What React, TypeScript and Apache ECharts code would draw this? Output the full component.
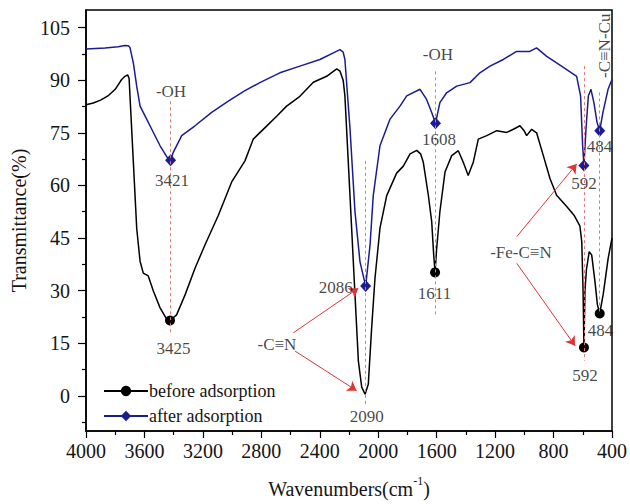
import React, { useEffect, useRef } from 'react';
import * as echarts from 'echarts';

const FONT = '"Liberation Serif", "Times New Roman", "DejaVu Serif", serif';

// before adsorption spectrum: [wavenumber, transmittance]
const beforeData: [number, number][] = [
  [4000, 83.0], [3950, 83.5], [3900, 84.3], [3850, 85.5], [3800, 87.4], [3756, 90.2],
  [3733, 91.1], [3715, 91.5], [3705, 90.5], [3699, 85.5], [3676, 66.7], [3653, 47.8],
  [3630, 38.4], [3608, 35.0], [3574, 34.2], [3539, 29.9], [3493, 25.1], [3450, 22.0],
  [3425, 21.5], [3380, 23.1], [3322, 28.8], [3254, 36.4], [3186, 43.0], [3094, 51.5],
  [3003, 61.0], [2912, 67.0], [2855, 73.2], [2764, 76.9], [2695, 79.7], [2627, 82.6],
  [2536, 85.4], [2444, 89.4], [2353, 91.1], [2284, 93.2], [2262, 92.6], [2240, 90.0],
  [2228, 85.5], [2205, 66.7], [2182, 47.8], [2159, 28.8], [2136, 10.0], [2113, 2.5],
  [2090, 0.5], [2068, 3.3], [2045, 19.4], [2022, 33.6], [1988, 47.8], [1942, 57.1],
  [1874, 63.5], [1828, 65.5], [1782, 69.0], [1737, 70.0], [1710, 69.0], [1692, 66.7],
  [1657, 57.2], [1634, 49.7], [1620, 40.0], [1611, 35.2], [1600, 42.0], [1578, 52.5],
  [1543, 63.8], [1497, 68.5], [1452, 69.9], [1418, 66.6], [1384, 62.8], [1349, 66.7],
  [1315, 73.2], [1257, 74.2], [1189, 75.6], [1120, 75.1], [1075, 76.0], [1030, 77.0],
  [1000, 75.5], [984, 74.2], [950, 76.0], [916, 75.0], [870, 68.5], [824, 61.9],
  [779, 57.2], [710, 54.0], [660, 51.5], [620, 48.5], [607, 44.0], [598, 30.0],
  [592, 13.8], [585, 30.0], [575, 36.0], [556, 41.1], [539, 40.2], [517, 32.7],
  [500, 26.0], [484, 23.5], [460, 29.0], [426, 39.3], [400, 45.0],
];

// after adsorption spectrum
const afterData: [number, number][] = [
  [4000, 98.9], [3870, 99.2], [3780, 99.5], [3733, 99.9], [3710, 99.8], [3699, 99.3],
  [3676, 94.9], [3653, 88.3], [3630, 82.6], [3596, 79.8], [3550, 76.0], [3493, 71.3],
  [3441, 67.8], [3421, 67.2], [3402, 69.5], [3345, 74.2], [3254, 77.0], [3140, 80.8],
  [3026, 84.0], [2912, 87.0], [2810, 89.3], [2673, 92.1], [2536, 94.0], [2399, 95.9],
  [2307, 97.8], [2262, 98.7], [2240, 98.0], [2228, 95.9], [2193, 76.1], [2159, 52.5],
  [2125, 38.3], [2086, 31.3], [2056, 43.0], [2034, 57.1], [1988, 71.3], [1919, 78.9],
  [1851, 82.6], [1805, 85.5], [1714, 87.4], [1669, 84.5], [1634, 80.8], [1608, 77.7],
  [1578, 83.6], [1532, 86.4], [1463, 88.3], [1372, 89.3], [1304, 92.1], [1235, 94.0],
  [1144, 95.9], [1053, 98.2], [962, 98.2], [916, 99.2], [847, 96.8], [779, 94.9],
  [710, 93.0], [642, 91.1], [615, 85.5], [601, 71.3], [592, 65.7], [578, 76.0],
  [562, 85.5], [544, 87.4], [524, 83.6], [502, 77.9], [484, 75.6], [462, 80.8],
  [427, 87.4], [400, 90.2],
];

const beforePeaks = [3425, 1611, 592, 484];
const afterPeaks = [3421, 2086, 1608, 592, 484];

const yMajor = [0, 15, 30, 45, 60, 75, 90, 105];
const yMinor = [-7.5, 7.5, 22.5, 37.5, 52.5, 67.5, 82.5, 97.5];

// annotation texts
const annoText = ['-OH', '3421', '3425', '-OH', '1608', '1611', '2086', '2090', '592', '484', '592', '484', '-C≡N', '-Fe-C≡N'];
const annoWn = [3418, 3411, 3401, 1591, 1584, 1615, 2290, 2079, 592, 486, 585, 479, 2693, 1023];
const annoT = [86.8, 61.3, 13.5, 97.3, 73.2, 29.2, 30.8, -6.0, 60.5, 71.2, 5.8, 18.6, 14.6, 41];

const vertText = ['-C≡N-Cu'];
const vertWn = [448];
const vertT = [99.8];

// dotted guide lines
const guideWn = [3421, 2088, 1608, 592, 484];
const guideTop = [84, 67, 92.5, 94, 86.5];
const guideBottom = [17.5, -3, 23, 10, 24];

// arrows
const arrowFrom: [number, number][] = [[2581, 18], [2570, 12.8], [1052, 45.4], [1052, 37.8]];
const arrowTo: [number, number][] = [[2136, 30.7], [2148, 1.5], [642, 66.1], [653, 14.3]];

const BLUE = '#1b1b92';
const TEXT = '#151515';

export default function App() {
  const ref = useRef<HTMLDivElement>(null);
  useEffect(() => {
    const chart = echarts.init(ref.current!, null, { renderer: 'svg' });
    const labelStyle = { fontSize: 20, fontFamily: FONT, color: TEXT };
    const option: any = {
      animation: false,
      backgroundColor: '#fff',
      grid: { left: 86, right: 18, top: 10, bottom: 70, show: true, borderColor: '#000', borderWidth: 1.5 },
      legend: {
        left: 98, top: 377, orient: 'vertical', itemWidth: 44, itemHeight: 13, itemGap: 7,
        textStyle: { fontSize: 18, fontFamily: FONT, color: TEXT, padding: [0, 0, 0, -4] },
        data: ['before adsorption', 'after adsorption'],
      },
      xAxis: {
        type: 'value', min: 400, max: 4000, interval: 400, inverse: true,
        axisLine: { show: true, onZero: false, lineStyle: { color: '#000', width: 1.5 } },
        axisTick: { show: true, length: 7, lineStyle: { color: '#000', width: 1.2 } },
        minorTick: { show: true, splitNumber: 2, length: 4, lineStyle: { color: '#000', width: 1.2 } },
        axisLabel: { ...labelStyle, margin: 10, formatter: (v: number) => String(v) },
        splitLine: { show: false },
        minorSplitLine: { show: false },
        name: '{n|Wavenumbers(cm}{sup|-1}{n|)}',
        nameLocation: 'middle', nameGap: 44,
        nameTextStyle: {
          fontFamily: FONT, color: TEXT,
          rich: {
            n: { fontSize: 20, fontFamily: FONT, color: TEXT, lineHeight: 24, verticalAlign: 'bottom' },
            sup: { fontSize: 12, fontFamily: FONT, color: TEXT, lineHeight: 14, verticalAlign: 'top' },
          },
        },
      },
      yAxis: [
        {
          type: 'value', min: -10, max: 110, position: 'left',
          axisLine: { show: true, onZero: false, lineStyle: { color: '#000', width: 1.5 } },
          axisTick: { show: true, length: 8, customValues: yMajor, lineStyle: { color: '#000', width: 1.2 } },
          axisLabel: { ...labelStyle, margin: 16, customValues: yMajor, formatter: (v: number) => String(v) },
          splitLine: { show: false },
          name: 'Transmittance(%)', nameLocation: 'middle', nameGap: 56,
          nameTextStyle: { fontSize: 20, fontFamily: FONT, color: TEXT },
        },
        {
          type: 'value', min: -10, max: 110, position: 'left',
          axisLine: { show: false, onZero: false },
          axisTick: { show: true, length: 4, customValues: yMinor, lineStyle: { color: '#000', width: 1.2 } },
          axisLabel: { show: false },
          splitLine: { show: false },
        },
      ],
      series: [
        {
          name: 'before adsorption', type: 'line', data: beforeData,
          symbol: 'circle', showSymbol: true,
          symbolSize: (v: number[]) => (beforePeaks.includes(v[0]) ? 10 : 0),
          lineStyle: { color: '#000', width: 1.5 }, itemStyle: { color: '#000' }, z: 3,
        },
        {
          name: 'after adsorption', type: 'line', data: afterData,
          symbol: 'diamond', showSymbol: true,
          symbolSize: (v: number[]) => (afterPeaks.includes(v[0]) ? [11, 12] : 0),
          lineStyle: { color: BLUE, width: 1.5 }, itemStyle: { color: BLUE }, z: 4,
        },
        {
          name: 'annotations', type: 'scatter', silent: true, symbolSize: 0, z: 5,
          data: annoWn.map((x, i) => ({ value: [x, annoT[i]], name: annoText[i] })),
          label: { show: true, position: 'inside', formatter: '{b}', fontSize: 17, fontFamily: FONT, color: TEXT },
          markLine: {
            silent: true, symbol: ['none', 'none'], label: { show: false },
            lineStyle: { color: '#e07a7a', type: [3, 3], width: 1 },
            data: guideWn.map((x, i) => [{ coord: [x, guideTop[i]] }, { coord: [x, guideBottom[i]] }]),
          },
        },
        {
          name: 'vertical', type: 'scatter', silent: true, symbolSize: 0, z: 5,
          data: vertWn.map((x, i) => ({ value: [x, vertT[i]], name: vertText[i] })),
          label: { show: true, position: 'inside', rotate: 90, formatter: '{b}', fontSize: 17, fontFamily: FONT, color: TEXT },
          markLine: {
            silent: true, symbol: ['none', 'arrow'], symbolSize: 9, label: { show: false },
            lineStyle: { color: '#e03535', type: 'solid', width: 1 },
            data: arrowFrom.map((p, i) => [{ coord: p }, { coord: arrowTo[i] }]),
          },
        },
      ],
    };
    chart.setOption(option);
    return () => chart.dispose();
  }, []);
  return <div ref={ref} style={{ position: 'fixed', left: 0, top: 0, width: 630, height: 504, background: '#fff' }} />;
}
